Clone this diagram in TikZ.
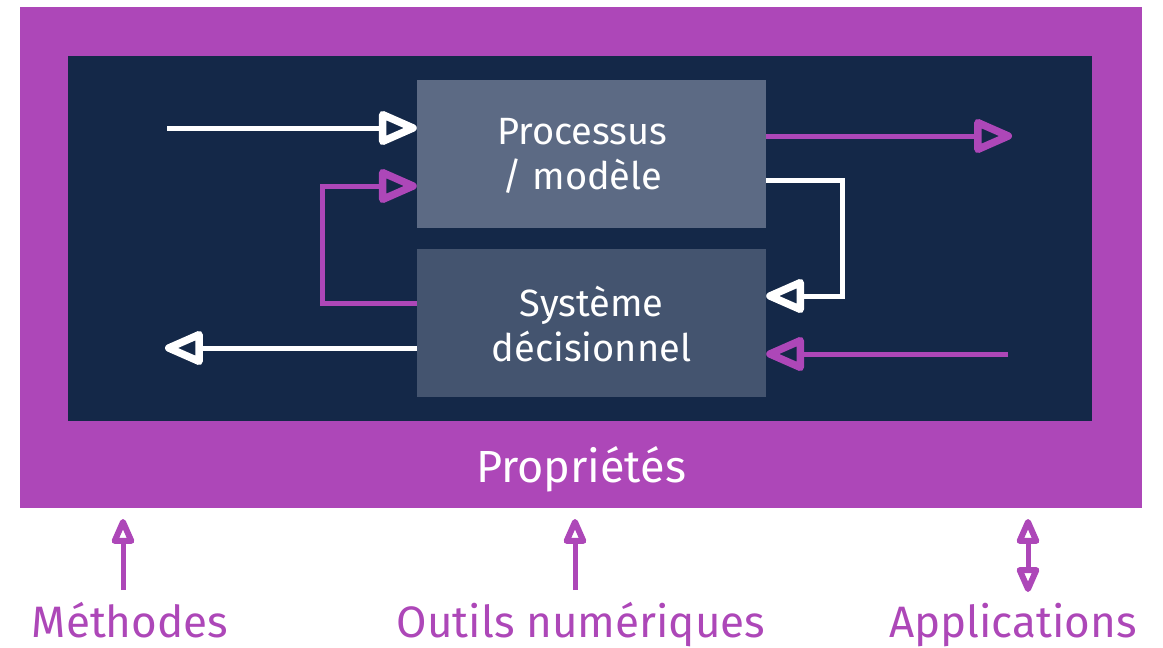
\documentclass[tikz,border=0pt]{standalone}
\usepackage{fontspec}
\setmainfont{Fira Sans}
\usepackage{tikz}
\usetikzlibrary{arrows.meta,calc}

\definecolor{propviolet}{RGB}{173,71,184}
\definecolor{navy}{RGB}{20,40,72}
\definecolor{boxtop}{RGB}{92,106,132}
\definecolor{boxbottom}{RGB}{68,84,111}

\tikzset{
  pointe/.tip={Triangle[open,round,line width=2.5pt 1,length=44pt,width=36pt]},
  petite/.tip={Triangle[open,round,line width=1pt 1,length=30pt,width=24pt]}}

\begin{document}
\begin{tikzpicture}[x=1pt,y=-1pt,
  every node/.style={inner sep=0pt},
  bloc/.style={minimum width=349pt,minimum height=148pt},
  bloctexte/.style={text=white,align=center,font=\fontsize{38}{45}\selectfont},
  flow/.style={line width=5pt,-pointe},
  lien/.style={line width=5pt,propviolet,-petite},
  lienbis/.style={line width=5pt,propviolet,petite-petite},
  label/.style={text=propviolet,anchor=base,font=\fontsize{44}{50}\selectfont}]
\useasboundingbox (0,0) rectangle (1163,648);

% cadre
\node[fill=propviolet,minimum width=1122pt,minimum height=501pt] (cadre) at (581,257.5) {};
\node[fill=navy,minimum width=1024pt,minimum height=365pt] (fond) at (580,238.5) {};
\node[text=white,anchor=base,font=\fontsize{45}{50}\selectfont] (prop) at (581,482) {Propriétés};

% blocs
\node[bloc,fill=boxtop] (proc) at (591.5,154) {};
\node[bloc,fill=boxbottom] (dec) at (591.5,322.5) {};
\node[bloctexte] (procT) at ([xshift=-9pt,yshift=-2pt]proc.center) {Processus\\/ modèle};
\node[bloctexte] (decT) at ([yshift=-2pt]dec.center) {Système\\décisionnel};

% entrees / sorties
\coordinate (inP) at (167,128);
\coordinate (outP) at (1012,136);
\coordinate (inD) at (1008,354);
\coordinate (outD) at (165,348);
\draw [flow,white] (inP) -- (inP -| proc.west);
\draw [flow,propviolet] (outP -| proc.east) -- (outP);
\draw [flow,propviolet] (inD) -- (inD -| dec.east);
\draw [flow,white] (outD -| dec.west) -- (outD);

% boucles
\coordinate (bR1) at (842,180);
\coordinate (bR2) at (842,296);
\coordinate (bL1) at (322,303);
\coordinate (bL2) at (322,186);
\draw [flow,white] (bR1 -| proc.east) -- (bR1) -- (bR2) -- (bR2 -| dec.east);
\draw [flow,propviolet] (bL1 -| dec.west) -- (bL1) -- (bL2) -- (bL2 -| proc.west);

% axes
\node[label] (meth) at (130,637) {Méthodes};
\node[label] (outil) at (581,637) {Outils numériques};
\node[label] (appl) at (1013,637) {Applications};
\coordinate (mA) at (123,590);
\coordinate (oA) at (575,590);
\coordinate (aA) at (1028,592);
\draw [lien] (mA) -- (mA |- 0,519);
\draw [lien] (oA) -- (oA |- 0,519);
\draw [lienbis] (aA) -- (aA |- 0,519);

\end{tikzpicture}
\end{document}
